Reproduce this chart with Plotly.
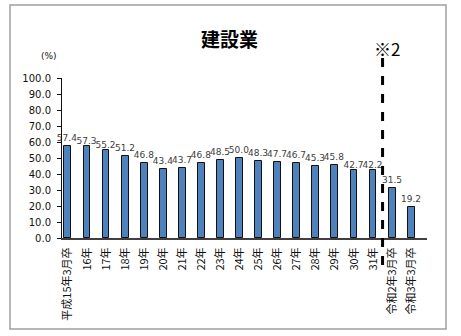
import plotly.graph_objects as go

categories = ["平成15年3月卒", "16年", "17年", "18年", "19年", "20年", "21年", "22年", "23年",
              "24年", "25年", "26年", "27年", "28年", "29年", "30年", "31年",
              "令和2年3月卒", "令和3年3月卒"]
values = [57.4, 57.3, 55.2, 51.2, 46.8, 43.4, 43.7, 46.8, 48.5, 50.0, 48.3, 47.7, 46.7,
          45.3, 45.8, 42.7, 42.2, 31.5, 19.2]
y_ticks = [0, 10, 20, 30, 40, 50, 60, 70, 80, 90, 100]
title_text = "建設業"
unit_text = "(%)"
note_text = "※2"
divider_after = 16.5

W, H = 461, 336
L, R, T, B = 62, 34, 78, 98
pw, ph = W - L - R, H - T - B

def px(x):
    return (x - L) / pw

def py(y):
    return (H - B - y) / ph

xs = list(range(len(categories)))

fig = go.Figure()
fig.add_trace(go.Bar(
    x=xs, y=values, width=0.36,
    marker=dict(color="#4F81BD", line=dict(color="#111111", width=1)),
    text=[f"{v:.1f}" for v in values], textposition="outside",
    constraintext="none",
    textfont=dict(family="DejaVu Sans", size=9, color="#404040"),
    cliponaxis=False,
))

fig.update_layout(
    width=W, height=H,
    margin=dict(l=L, r=R, t=T, b=B),
    paper_bgcolor="white", plot_bgcolor="white",
    showlegend=False,
    bargap=0,
    xaxis=dict(
        range=[-0.31, 18.83], tickmode="array", tickvals=xs, ticktext=categories,
        tickangle=-90, showline=True, linecolor="#404040", linewidth=2,
        showgrid=False, ticks="", zeroline=False,
        tickfont=dict(family="Noto Sans CJK JP", size=11, color="#111111"),
        ticklabelstandoff=3,
    ),
    yaxis=dict(
        range=[0, 100], tickmode="array", tickvals=y_ticks,
        ticktext=[f"{v:.1f}" for v in y_ticks],
        showline=True, linecolor="#111111", linewidth=1,
        ticks="outside", ticklen=4, tickcolor="#111111",
        showgrid=False, zeroline=False,
        tickfont=dict(family="DejaVu Sans", size=10, color="#111111"),
        ticklabelstandoff=4,
    ),
    shapes=[
        dict(type="rect", xref="paper", yref="paper",
             x0=px(10), x1=px(446), y0=py(329), y1=py(5),
             line=dict(color="#A0A0A0", width=1.5), layer="below"),
        dict(type="line", xref="x", yref="paper",
             x0=divider_after, x1=divider_after, y0=py(265), y1=py(58),
             line=dict(color="black", width=3, dash="dash")),
    ],
    annotations=[
        dict(text=f"<b>{title_text}</b>", xref="paper", yref="paper",
             x=px(229), y=py(38), xanchor="center", yanchor="middle", showarrow=False,
             font=dict(family="Noto Sans CJK JP", size=19, color="black")),
        dict(text=note_text, xref="paper", yref="paper",
             x=px(387), y=py(48), xanchor="center", yanchor="middle", showarrow=False,
             font=dict(family="Noto Sans CJK JP", size=17, color="black")),
        dict(text=unit_text, xref="paper", yref="paper",
             x=px(49), y=py(56), xanchor="center", yanchor="middle", showarrow=False,
             font=dict(family="DejaVu Sans", size=9, color="#111111")),
    ],
)

fig.write_html("out.html")
